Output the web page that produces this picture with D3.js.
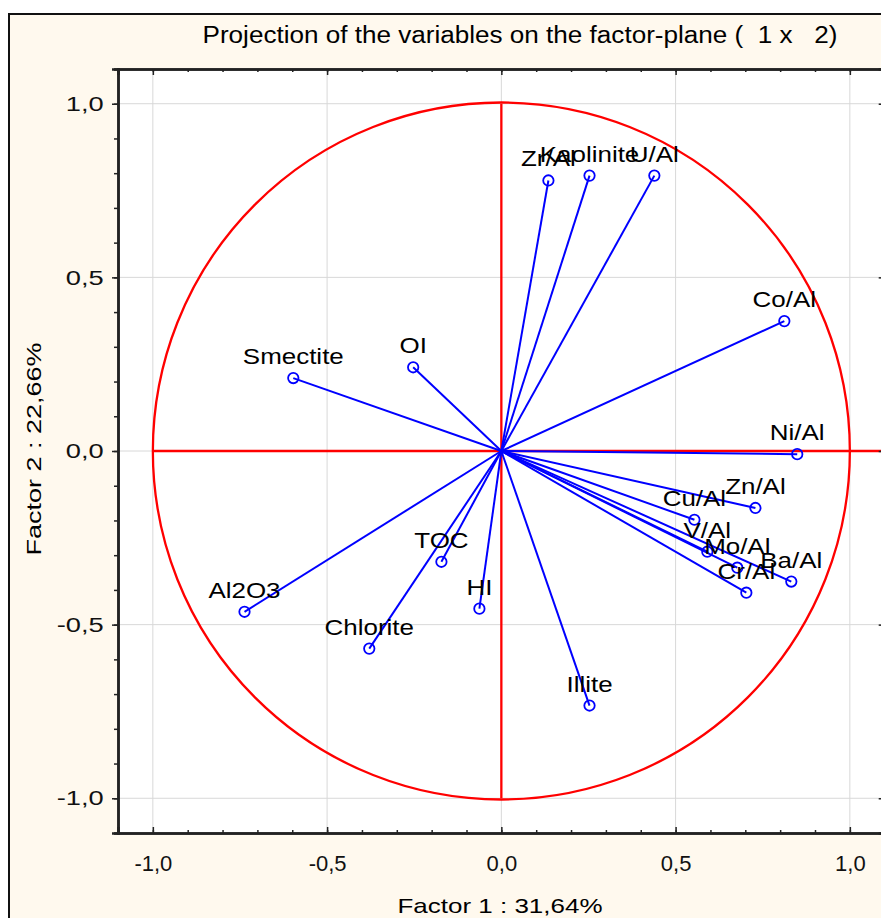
<!DOCTYPE html>
<html><head><meta charset="utf-8">
<script src="https://cdn.jsdelivr.net/npm/d3@7"></script>
<style>html,body{margin:0;padding:0;background:#fff;overflow:hidden}</style>
</head><body>
<script>
const names = ["Zr/Al","Kaolinite","U/Al","Co/Al","Ni/Al","Zn/Al","Cu/Al","V/Al","Mo/Al","Ba/Al","Cr/Al","Illite","HI","TOC","Chlorite","Al2O3","Smectite","OI"];
const factor1 = [0.135,0.253,0.439,0.812,0.849,0.729,0.554,0.591,0.677,0.832,0.703,0.253,-0.063,-0.172,-0.379,-0.737,-0.597,-0.253];
const factor2 = [0.779,0.793,0.793,0.374,-0.009,-0.164,-0.198,-0.290,-0.336,-0.376,-0.408,-0.733,-0.454,-0.319,-0.569,-0.463,0.210,0.241];
const majorTicks = [-1.0,-0.5,0.0,0.5,1.0];
const minorTicks = d3.range(-11,12).map(i=>i/10);
const title = "Projection of the variables on the factor-plane (  1 x   2)";
const xTitle = "Factor 1 : 31,64%";
const yTitle = "Factor 2 : 22,66%";

const W=881,H=918;
const svg=d3.select("body").append("svg").attr("width",W).attr("height",H);
const font="'Liberation Sans', Arial, sans-serif";
svg.append("rect").attr("x",9).attr("y",14).attr("width",900).attr("height",950)
  .attr("fill","#FFF9EE").attr("stroke","#111").attr("stroke-width",2);

const L=118,R=884.7,T=69,B=833;
const x=d3.scaleLinear().domain([-1.1,1.1]).range([L,R]);
const y=d3.scaleLinear().domain([-1.1,1.1]).range([B,T]);
const fmt=v=>d3.format(".1f")(v).replace(".",",").replace("−","-");

svg.append("rect").attr("x",L).attr("y",T).attr("width",R-L).attr("height",B-T).attr("fill","#fff");
const g=svg.append("g");
// grid
g.selectAll(".gx").data(majorTicks).join("line").attr("x1",d=>x(d)).attr("x2",d=>x(d)).attr("y1",T).attr("y2",B).attr("stroke","#d8d8d8").attr("stroke-width",1);
g.selectAll(".gy").data(majorTicks).join("line").attr("y1",d=>y(d)).attr("y2",d=>y(d)).attr("x1",L).attr("x2",R).attr("stroke","#d8d8d8").attr("stroke-width",1);

// unit circle and axes
g.append("circle").attr("cx",x(0)).attr("cy",y(0)).attr("r",x(1)-x(0)).attr("fill","none").attr("stroke","#FF0000").attr("stroke-width",2.3);
g.append("line").attr("x1",x(0)).attr("x2",x(0)).attr("y1",y(1)).attr("y2",y(-1)).attr("stroke","#FF0000").attr("stroke-width",2.3);
g.append("line").attr("x1",x(-1)).attr("x2",R).attr("y1",y(0)).attr("y2",y(0)).attr("stroke","#FF0000").attr("stroke-width",2.3);

// vectors
const data=names.map((n,i)=>({n,a:factor1[i],b:factor2[i]}));
g.selectAll(".vec").data(data).join("line").attr("x1",x(0)).attr("y1",y(0)).attr("x2",d=>x(d.a)).attr("y2",d=>y(d.b)).attr("stroke","#0000FF").attr("stroke-width",2);
g.selectAll(".pt").data(data).join("circle").attr("cx",d=>x(d.a)).attr("cy",d=>y(d.b)).attr("r",5.2).attr("fill","none").attr("stroke","#0000FF").attr("stroke-width",1.8);
g.selectAll(".lbl").data(data).join("text").attr("transform",d=>`translate(${x(d.a)},${y(d.b)-14}) scale(1.18,1)`).attr("text-anchor","middle")
  .attr("font-family",font).attr("font-size",22).attr("fill","#000").text(d=>d.n);

// axes with ticks
const ax=svg.append("g");
// bottom
ax.append("g").attr("transform",`translate(0,${B})`).call(d3.axisBottom(x).tickValues(minorTicks).tickSize(-3).tickFormat(""));
const bx=ax.append("g").attr("transform",`translate(0,${B})`).call(d3.axisBottom(x).tickValues(majorTicks).tickSize(-6).tickPadding(22).tickFormat(fmt));
// top
ax.append("g").attr("transform",`translate(0,${T})`).call(d3.axisTop(x).tickValues(minorTicks).tickSize(-3).tickFormat(""));
ax.append("g").attr("transform",`translate(0,${T})`).call(d3.axisTop(x).tickValues(majorTicks).tickSize(-6).tickFormat(""));
// left
ax.append("g").attr("transform",`translate(${L},0)`).call(d3.axisLeft(y).tickValues(minorTicks).tickSize(4).tickFormat(""));
const ly=ax.append("g").attr("transform",`translate(${L},0)`).call(d3.axisLeft(y).tickValues(majorTicks).tickSize(6).tickFormat(fmt));
// right
ax.append("g").attr("transform",`translate(${R},0)`).call(d3.axisRight(y).tickValues(majorTicks).tickSize(-6).tickFormat(""));
ax.selectAll(".domain").attr("stroke","#222").attr("stroke-width",2.5);
ax.selectAll(".tick line").attr("stroke","#222").attr("stroke-width",1.5);
ax.selectAll(".tick text").attr("font-family",font).attr("fill","#111");
bx.selectAll(".tick text").attr("font-size",22);
ly.selectAll(".tick text").attr("font-size",21).attr("x",-11).attr("transform","scale(1.3,1)");

svg.append("text").attr("x",520).attr("y",43).attr("text-anchor","middle").attr("font-family",font).attr("font-size",23)
  .attr("textLength",635).attr("lengthAdjust","spacingAndGlyphs").attr("xml:space","preserve").text(title);
svg.append("text").attr("x",500).attr("y",913).attr("text-anchor","middle").attr("font-family",font).attr("font-size",21)
  .attr("textLength",205).attr("lengthAdjust","spacingAndGlyphs").text(xTitle);
svg.append("text").attr("transform","translate(41,449) rotate(-90)").attr("text-anchor","middle").attr("font-family",font).attr("font-size",21)
  .attr("textLength",213).attr("lengthAdjust","spacingAndGlyphs").text(yTitle);
</script>
</body></html>
